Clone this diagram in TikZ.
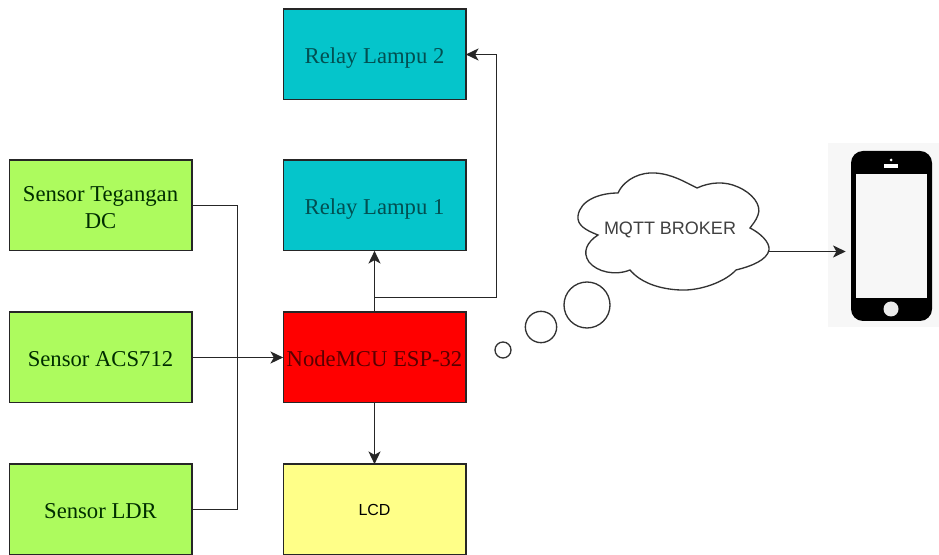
\documentclass[tikz,border=0pt]{standalone}
\usepackage{fontspec}
\setmainfont{Liberation Serif}
\newfontfamily\labelsans{Liberation Sans}
\usetikzlibrary{arrows.meta, positioning, calc}
\definecolor{sensorgreen}{HTML}{ADFB5E}
\definecolor{relayteal}{HTML}{05C5CB}
\definecolor{lcdyellow}{HTML}{FFFF88}
\definecolor{phonebg}{HTML}{F7F7F7}
\tikzset{
    blockbox/.style={draw=black!85, line width=1pt, minimum width=137pt, minimum height=68pt, inner sep=0pt, outer sep=0pt, align=center, font=\fontsize{17}{20}\selectfont},
    oneline/.style={text height=15.2pt, text depth=2pt},
    sensorbox/.style={blockbox, fill=sensorgreen, text=black!70!green!60!black},
    relaybox/.style={blockbox, oneline, fill=relayteal, text=black!60!relayteal},
    conn/.style={line width=1.25pt, black!85},
    connarrow/.style={conn, -{Stealth[length=9.5pt, width=9pt, inset=2.5pt]}},
    cloudline/.style={line width=1pt, black!80}
}
\begin{document}
\begin{tikzpicture}[x=0.75pt, y=-0.75pt]
    \useasboundingbox (0,0) rectangle (939,555);

    % sensors
    \node[sensorbox, text height=36pt, text depth=2pt] (tegangan) at (100.5,205.5) {Sensor Tegangan\\DC};
    \node[sensorbox, oneline] (acs) at (100.5,357.5) {Sensor ACS712};
    \node[sensorbox, oneline] (ldr) at (100.5,509.5) {Sensor LDR};

    % middle column
    \node[relaybox] (relay2) at (374.5,54.5) {Relay Lampu 2};
    \node[relaybox] (relay1) at (374.5,205.5) {Relay Lampu 1};
    \node[blockbox, oneline, fill=red, text=black!65!red] (esp) at (374.5,357.5) {NodeMCU ESP-32};
    \node[blockbox, fill=lcdyellow, font=\labelsans\fontsize{12}{15}\selectfont] (lcd) at (374.5,509.5) {LCD};

    % connectors
    \coordinate (rail) at (237.5,357.5);
    \coordinate (tap) at (374.5,297.5);
    \draw[conn] (tegangan.east) -| (rail) |- (ldr.east);
    \draw[connarrow] (acs.east) -- (esp.west);
    \draw[connarrow] (esp.north) -- (relay1.south);
    \draw[connarrow] (tap) -- ++(122,0) |- (relay2.east);
    \draw[connarrow] (esp.south) -- (lcd.north);

    % cloud
    \draw[cloudline, fill=white] (598,235)
        .. controls (585,230) and (577,225) .. (578,216)
        .. controls (580,200) and (600,193) .. (618,193)
        .. controls (625,178) and (642,172) .. (655,173)
        .. controls (672,174) and (685,182) .. (697,188)
        .. controls (710,182) and (725,181) .. (738,187)
        .. controls (752,193) and (762,205) .. (758,215)
        .. controls (756,221) and (752,225) .. (750,228)
        .. controls (760,233) and (770,242) .. (769,250)
        .. controls (767,260) and (752,266) .. (736,270)
        .. controls (725,282) and (700,291) .. (680,290)
        .. controls (658,289) and (640,282) .. (630,270)
        .. controls (615,276) and (597,272) .. (589,262)
        .. controls (582,252) and (587,242) .. (598,235) -- cycle;
    \node[font=\labelsans\fontsize{13.5}{16}\selectfont, text=black!75, inner sep=0pt] (broker) at (670,230) {MQTT BROKER};
    \coordinate (cloudtip) at (769,251.5);
    \node[draw=black!80, line width=1pt, circle, minimum size=34.5pt, inner sep=0pt] (bubbleC) at (587,305) {};
    \node[draw=black!80, line width=1pt, circle, minimum size=23.5pt, inner sep=0pt] (bubbleB) at (541,327) {};
    \node[draw=black!80, line width=1pt, circle, minimum size=12pt, inner sep=0pt] (bubbleA) at (503,350) {};

    % phone
    \node[fill=phonebg, minimum width=83pt, minimum height=138pt, inner sep=0pt, outer sep=0pt] (phonebox) at (883.5,235) {};
    \fill[black] (851,163) arc[start angle=180, end angle=270, radius=12] -- (920,151) arc[start angle=270, end angle=360, radius=12] -- (932,309) arc[start angle=0, end angle=90, radius=12] -- (863,321) arc[start angle=90, end angle=180, radius=12] -- cycle;
    \fill[phonebg] (856,174) rectangle (927,298);
    \fill[white] (884,164) rectangle (898,168);
    \fill[white] (891,160) circle (1.5);
    \fill[white!92!black] (891,309) circle (7.5);
    \node[minimum size=0pt, inner sep=0pt] (phone) at (846,251.5) {};
    \draw[connarrow] (cloudtip) -- (phone);
\end{tikzpicture}
\end{document}
